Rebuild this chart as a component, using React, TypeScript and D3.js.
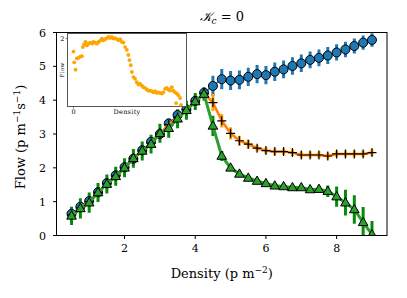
import React from "react";
import * as d3 from "d3";

// densities (p m^-2)
const density = [
  0.5, 0.75, 1.0, 1.25, 1.5, 1.75, 2.0, 2.25, 2.5, 2.75, 3.0, 3.25, 3.5, 3.75, 4.0, 4.25,
  4.5, 4.75, 5.0, 5.25, 5.5, 5.75, 6.0, 6.25, 6.5, 6.75, 7.0, 7.25, 7.5, 7.75, 8.0, 8.25,
  8.5, 8.75, 9.0,
];

const blueFlow = [
  0.64, 0.85, 1.02, 1.28, 1.55, 1.78, 2.02, 2.27, 2.52, 2.77, 3.0, 3.31, 3.56, 3.73, 3.98, 4.22,
  4.42, 4.62, 4.58, 4.6, 4.69, 4.77, 4.74, 4.84, 4.91, 5.01, 5.09, 5.19, 5.25, 5.32, 5.41, 5.5,
  5.6, 5.7, 5.78,
];
const blueErr = [
  0.12, 0.12, 0.12, 0.12, 0.12, 0.12, 0.12, 0.12, 0.12, 0.12, 0.15, 0.15, 0.15, 0.15, 0.15, 0.15,
  0.3, 0.3, 0.28, 0.28, 0.27, 0.27, 0.27, 0.27, 0.26, 0.26, 0.26, 0.25, 0.25, 0.25, 0.24, 0.23,
  0.22, 0.21, 0.2,
];

const orangeFlow = [
  0.6, 0.82, 1.0, 1.27, 1.53, 1.76, 2.0, 2.27, 2.5, 2.73, 3.0, 3.28, 3.5, 3.72, 3.97, 4.2,
  3.93, 3.39, 3.02, 2.8, 2.7, 2.58, 2.51, 2.48, 2.48, 2.45, 2.38, 2.38, 2.38, 2.35, 2.41, 2.41,
  2.41, 2.41, 2.45,
];
const orangeErr = [
  0.15, 0.15, 0.15, 0.15, 0.15, 0.15, 0.15, 0.15, 0.15, 0.15, 0.15, 0.15, 0.15, 0.15, 0.15, 0.15,
  0.25, 0.2, 0.18, 0.15, 0.13, 0.1, 0.1, 0.1, 0.1, 0.1, 0.1, 0.1, 0.1, 0.1, 0.1, 0.1,
  0.1, 0.1, 0.1,
];

const greenFlow = [
  0.58, 0.8, 0.97, 1.27, 1.52, 1.75, 2.0, 2.28, 2.5, 2.7, 3.02, 3.17, 3.45, 3.7, 3.96, 4.18,
  3.24, 2.35, 2.0, 1.82, 1.7, 1.61, 1.54, 1.47, 1.45, 1.42, 1.42, 1.36, 1.37, 1.31, 1.15, 0.97,
  0.77, 0.39, 0.03,
];
const greenErr = [
  0.27, 0.3, 0.3, 0.28, 0.28, 0.28, 0.28, 0.28, 0.28, 0.28, 0.28, 0.28, 0.28, 0.28, 0.25, 0.2,
  0.3, 0.15, 0.08, 0.06, 0.06, 0.06, 0.06, 0.06, 0.06, 0.06, 0.06, 0.06, 0.06, 0.17, 0.3, 0.38,
  0.42, 0.45, 0.4,
];

// inset: single orange scatter
const insetDensity = [
  0.0, 0.06, 0.17, 0.28, 0.42, 0.56, 0.7, 0.78, 0.89, 1.0, 1.12, 1.25, 1.39, 1.56, 1.67, 1.81,
  1.95, 2.08, 2.22, 2.37, 2.5, 2.64, 2.78, 2.92, 3.06, 3.2, 3.33, 3.47, 3.62, 3.75, 3.89, 4.03,
  4.17, 4.31, 4.45, 4.58, 4.67, 4.78, 4.87, 5.0, 5.14, 5.28, 5.42, 5.56, 5.7, 5.83, 5.97, 6.12,
  6.25, 6.39, 6.53, 6.67, 6.81, 6.95, 7.08, 7.22, 7.37, 7.5, 7.64, 7.78, 7.92, 8.06, 8.2, 8.33,
  8.47, 8.62, 8.75, 8.89, 8.56, 8.97,
];
const insetFlow = [
  1.77, 1.58, 1.45, 1.65, 1.66, 1.68, 1.69, 1.85, 1.9, 1.94, 1.88, 1.91, 1.93, 1.91, 1.94, 1.93,
  1.91, 1.94, 1.96, 2.0, 1.97, 1.99, 2.01, 2.03, 2.01, 2.03, 2.0, 2.01, 1.99, 1.97, 1.99, 1.94,
  1.93, 1.85, 1.8, 1.71, 1.62, 1.53, 1.41, 1.32, 1.29, 1.23, 1.19, 1.2, 1.17, 1.14, 1.13, 1.1,
  1.08, 1.08, 1.07, 1.05, 1.07, 1.04, 1.05, 1.04, 1.03, 1.05, 1.11, 1.13, 1.1, 1.08, 1.14, 1.08,
  1.05, 1.03, 1.0, 0.95, 0.86, 0.83,
];

const xTicks = [2, 4, 6, 8];
const yTicks = [0, 1, 2, 3, 4, 5, 6];

const FONT = "'DejaVu Serif', 'Liberation Serif', serif";

const C_BLUE = "#1f77b4";
const C_ORANGE_LINE = "#ff7f0e";
const C_ORANGE_BAR = "#ffa500";
const C_GREEN_LINE = "#2ca02c";
const C_GREEN_BAR = "#078a07";

export default function App() {
  const W = 407, H = 298;
  const left = 56.5, right = 387, top = 32.5, bottom = 235.5;

  const x = d3.scaleLinear().domain([0.075, 9.425]).range([left, right]);
  const y = d3.scaleLinear().domain([0, 6]).range([bottom, top]);

  const ix = d3.scaleLinear().domain([-0.5, 9.43]).range([67.5, 186.5]);
  const iy = d3.scaleLinear().domain([0.8, 2.09]).range([106.5, 33.5]);

  const line = d3.line<number>().x((_, i) => x(density[i])).y((v) => y(v));

  const errBars = (vals: number[], errs: number[], color: string, w: number) =>
    density.map((d, i) => (
      <line
        key={i}
        x1={x(d)} x2={x(d)}
        y1={y(vals[i] - errs[i])} y2={y(vals[i] + errs[i])}
        stroke={color} strokeWidth={w}
      />
    ));

  const tri = d3.symbol().type(d3.symbolTriangle).size(40)();

  return (
    <svg width={W} height={H} style={{ position: "absolute", left: 0, top: 0, background: "white" }}>
      <defs>
        <clipPath id="plotclip">
          <rect x={left} y={top} width={right - left} height={bottom - top} />
        </clipPath>
      </defs>

      <text x={(left + right) / 2} y={21} textAnchor="middle" fontFamily={FONT} fontSize={13}>
        <tspan fontStyle="italic">𝒦</tspan>
        <tspan fontStyle="italic" fontSize={9} dy={3}>c</tspan>
        <tspan dy={-3}> = 0</tspan>
      </text>

      <g clipPath="url(#plotclip)">
        {errBars(blueFlow, blueErr, C_BLUE, 3)}
        {errBars(orangeFlow, orangeErr, C_ORANGE_BAR, 3)}
        {errBars(greenFlow, greenErr, C_GREEN_BAR, 3)}

        <path d={line(blueFlow) ?? ""} fill="none" stroke={C_BLUE} strokeWidth={1.5} />
        {density.map((d, i) => (
          <circle key={i} cx={x(d)} cy={y(blueFlow[i])} r={4.5} fill={C_BLUE} stroke="black" strokeWidth={1} />
        ))}

        <path d={line(orangeFlow) ?? ""} fill="none" stroke={C_ORANGE_LINE} strokeWidth={2.5} />
        {density.map((d, i) => (
          <path
            key={i}
            d={`M${x(d) - 4.5},${y(orangeFlow[i])}h9M${x(d)},${y(orangeFlow[i]) - 4.5}v9`}
            stroke="black" strokeWidth={1.2}
          />
        ))}

        <path d={line(greenFlow) ?? ""} fill="none" stroke={C_GREEN_LINE} strokeWidth={3} />
        {density.map((d, i) => (
          <path
            key={i}
            d={tri ?? ""}
            transform={`translate(${x(d)},${y(greenFlow[i]) + 0.5})`}
            fill={C_GREEN_LINE} stroke="black" strokeWidth={1}
          />
        ))}
      </g>

      {/* inset */}
      <rect x={67.5} y={33.5} width={119} height={73} fill="white" stroke="#444" strokeWidth={0.9} />
      {insetDensity.map((d, i) => (
        <circle key={i} cx={ix(d)} cy={iy(insetFlow[i])} r={1.9} fill={C_ORANGE_BAR} />
      ))}
      <line x1={ix(0)} x2={ix(0)} y1={106.5} y2={108.5} stroke="#444" strokeWidth={0.7} />
      <line x1={65.5} x2={67.5} y1={iy(2)} y2={iy(2)} stroke="#444" strokeWidth={0.7} />
      <text x={ix(0)} y={114} textAnchor="middle" fontFamily={FONT} fontSize={6.5}>0</text>
      <text x={64.5} y={iy(2) + 2.3} textAnchor="end" fontFamily={FONT} fontSize={6.5}>2</text>
      <text x={127} y={114} textAnchor="middle" fontFamily={FONT} fontSize={6.5} letterSpacing={0.3}>Density</text>
      <text transform={`translate(63.5,70) rotate(-90)`} textAnchor="middle" fontFamily={FONT} fontSize={5.5} letterSpacing={0.3}>Flow</text>

      {/* frame */}
      <rect x={left} y={top} width={right - left} height={bottom - top} fill="none" stroke="black" strokeWidth={1} />

      {xTicks.map((t) => (
        <g key={t}>
          <line x1={x(t)} x2={x(t)} y1={bottom} y2={bottom + 3.5} stroke="black" strokeWidth={1} />
          <text x={x(t)} y={bottom + 16} textAnchor="middle" fontFamily={FONT} fontSize={11}>{t}</text>
        </g>
      ))}
      {yTicks.map((t) => (
        <g key={t}>
          <line x1={left - 3.5} x2={left} y1={y(t)} y2={y(t)} stroke="black" strokeWidth={1} />
          <text x={46} y={y(t) + 4} textAnchor="end" fontFamily={FONT} fontSize={11}>{t}</text>
        </g>
      ))}

      <text x={(left + right) / 2} y={278} textAnchor="middle" fontFamily={FONT} fontSize={13}>
        Density (p m<tspan dy={-5} fontSize={9}>−2</tspan><tspan dy={5}>)</tspan>
      </text>
      <text transform={`translate(25,137) rotate(-90)`} textAnchor="middle" fontFamily={FONT} fontSize={13}>
        Flow (p m<tspan dy={-5} fontSize={9}>−1</tspan><tspan dy={5}>s</tspan>
        <tspan dy={-5} fontSize={9}>−1</tspan><tspan dy={5}>)</tspan>
      </text>
    </svg>
  );
}
